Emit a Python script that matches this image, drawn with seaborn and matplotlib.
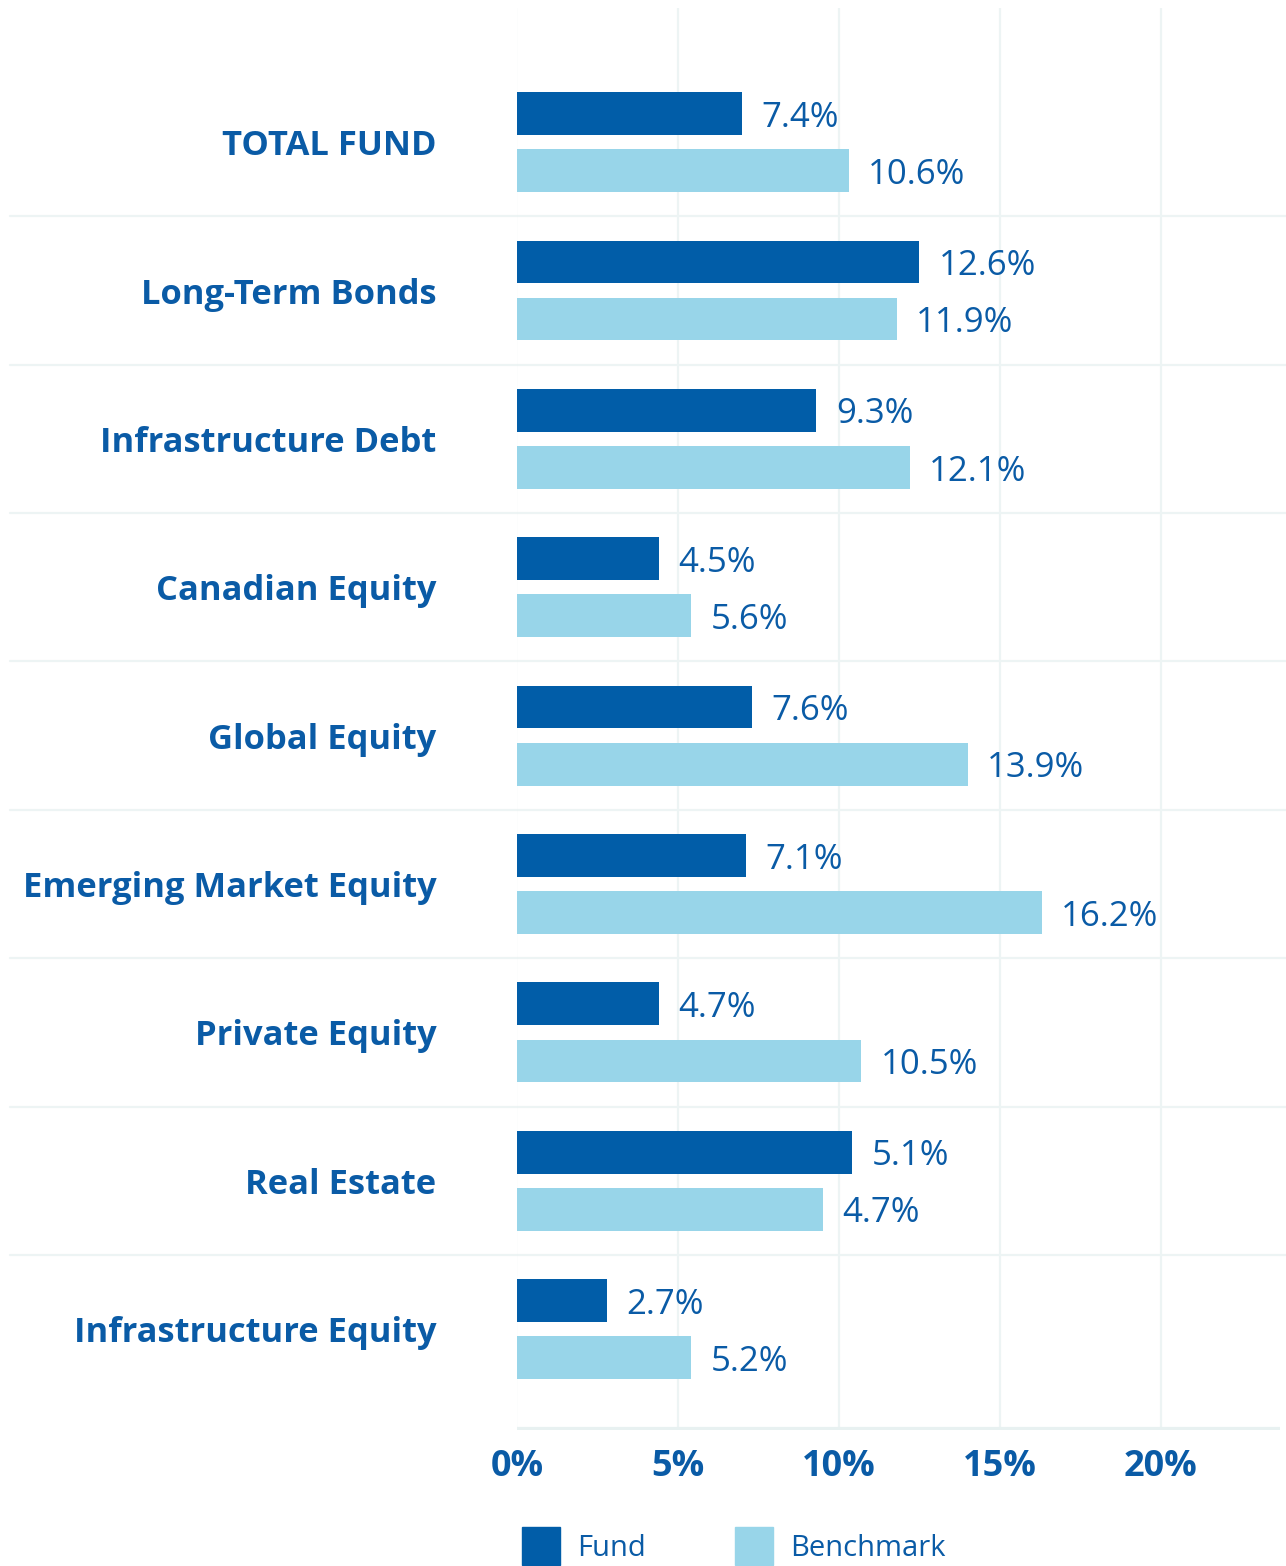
import pandas as pd
import matplotlib.pyplot as plt
import seaborn as sns

# data
categories = [
    "TOTAL FUND",
    "Long-Term Bonds",
    "Infrastructure Debt",
    "Canadian Equity",
    "Global Equity",
    "Emerging Market Equity",
    "Private Equity",
    "Real Estate",
    "Infrastructure Equity",
]
# bar lengths as drawn (%)
fund_bars = [7.0, 12.5, 9.3, 4.4, 7.3, 7.1, 4.4, 10.4, 2.8]
bench_bars = [10.3, 11.8, 12.2, 5.4, 14.0, 16.3, 10.7, 9.5, 5.4]
# printed labels
fund_labels = ["7.4%", "12.6%", "9.3%", "4.5%", "7.6%", "7.1%", "4.7%", "5.1%", "2.7%"]
bench_labels = ["10.6%", "11.9%", "12.1%", "5.6%", "13.9%", "16.2%", "10.5%", "4.7%", "5.2%"]
x_ticks = [0, 5, 10, 15, 20]

series = ["Fund", "Benchmark"]
colors = {"Fund": "#015DA8", "Benchmark": "#98D5E9"}
text_blue = "#0A5BA6"
grid_col = "#EDF4F4"

df = pd.DataFrame({
    "category": categories * 2,
    "value": fund_bars + bench_bars,
    "series": ["Fund"] * len(categories) + ["Benchmark"] * len(categories),
})

sns.set_style("white")
plt.rcParams["font.family"] = ["Open Sans", "DejaVu Sans"]

fig = plt.figure(figsize=(12.86, 15.66), dpi=100)
ax = fig.add_axes([517 / 1286, 1 - 1430 / 1566, 763 / 1286, 1422 / 1566])

sns.barplot(data=df, y="category", x="value", hue="series", hue_order=series,
            palette=colors, orient="h", width=0.77, gap=0.25, ax=ax,
            legend=False, saturation=1, edgecolor="none")

ax.set_xlim(0, 23.7)
ax.set_ylim(len(categories) - 1 + 0.68, -0.904)

# value labels next to bar ends
for cont, labs in zip(ax.containers, [fund_labels, bench_labels]):
    for bar, lab in zip(cont, labs):
        y = bar.get_y() + bar.get_height() / 2
        ax.annotate(lab, (bar.get_width(), y), xytext=(14, -3),
                    textcoords="offset points", va="center", ha="left",
                    fontsize=25, color=text_blue)

# grid lines
for t in x_ticks[1:]:
    ax.axvline(t, color=grid_col, lw=1.6, zorder=0)
for spine in ax.spines.values():
    spine.set_visible(False)
ax.axvline(-0.08, color="#E8F1F1", lw=4.5, zorder=0.5)
ax.axhline(len(categories) - 1 + 0.68, color="#E8F1F1", lw=4.5, zorder=0.5)

# row separators reaching into label area
trans = ax.get_yaxis_transform()
for i in range(len(categories) - 1):
    ax.plot([-0.665, 1.01], [i + 0.5, i + 0.5], transform=trans,
            color=grid_col, lw=1.6, clip_on=False, zorder=0)

ax.set_xticks(x_ticks)
ax.set_xticklabels([f"{t}%" for t in x_ticks], fontsize=26, fontweight="bold",
                   color=text_blue)
ax.tick_params(axis="x", length=0, pad=14)
ax.tick_params(axis="y", length=0, pad=58)
for lab in ax.get_yticklabels():
    lab.set_fontsize(24.8)
    lab.set_fontweight("bold")
    lab.set_color(text_blue)
ax.set_xlabel("")
ax.set_ylabel("")

# legend at bottom
handles = [plt.Line2D([], [], marker="s", ls="none", markersize=27,
                      markerfacecolor=colors[s], markeredgecolor=colors[s]) for s in series]
leg = fig.legend(handles, series, loc="center left",
                 bbox_to_anchor=(506 / 1286, 1 - 1549 / 1566),
                 ncol=2, frameon=False, fontsize=21, handlelength=1.4,
                 columnspacing=3.0, handletextpad=0.55, borderpad=0)
for t in leg.get_texts():
    t.set_color(text_blue)

fig.savefig("out.png", dpi=100)
